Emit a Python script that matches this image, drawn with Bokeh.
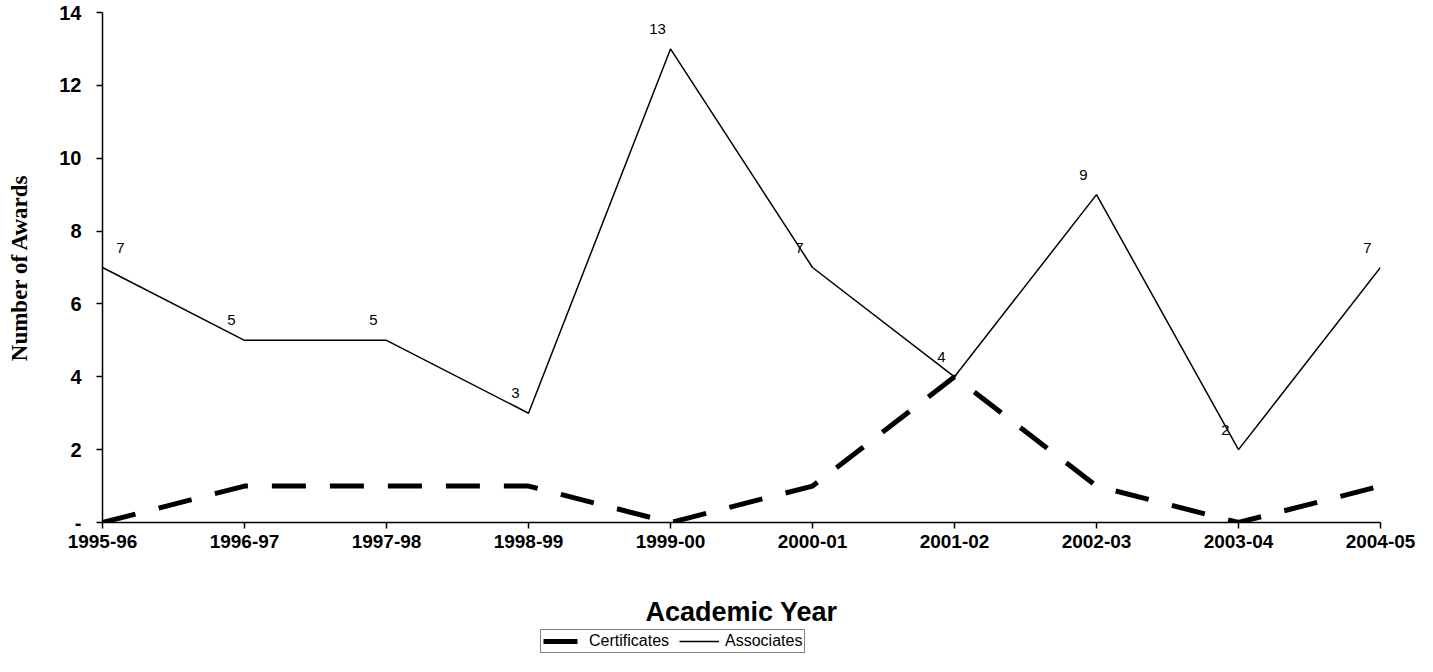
from bokeh.plotting import figure
from bokeh.layouts import column
from bokeh.models import ColumnDataSource, Legend, LegendItem, FixedTicker, Range1d
from bokeh.core.properties import value
from bokeh.embed import file_html
from bokeh.resources import INLINE

years = ["1995-96", "1996-97", "1997-98", "1998-99", "1999-00",
         "2000-01", "2001-02", "2002-03", "2003-04", "2004-05"]
certificates = [0, 1, 1, 1, 0, 1, 4, 1, 0, 1]
associates = [7, 5, 5, 3, 13, 7, 4, 9, 2, 7]
y_ticks = [0, 2, 4, 6, 8, 10, 12, 14]
series_names = ["Certificates", "Associates"]

xs = list(range(len(years)))

CERT_STYLE = dict(line_color="black", line_width=5, line_dash="34 24")
ASSOC_STYLE = dict(line_color="black", line_width=1.5)

p = figure(frame_width=1278, frame_height=510, output_backend="svg", toolbar_location=None,
           x_range=Range1d(0, len(years) - 1), y_range=Range1d(0, 14),
           min_border_left=102, min_border_right=37, min_border_top=12,
           min_border_bottom=0)
p.outline_line_color = None
p.xgrid.visible = False
p.ygrid.visible = False

p.line(xs, certificates, **CERT_STYLE)
p.line(xs, associates, **ASSOC_STYLE)

lab_src = ColumnDataSource(dict(
    x=xs, y=associates, t=[str(v) for v in associates],
    xo=[18] + [-13] * (len(xs) - 1)))
p.text(x="x", y="y", text="t", x_offset="xo", y_offset=-20, source=lab_src,
       text_align="center", text_baseline="middle", text_color="black",
       text_font=value("Liberation Sans"), text_font_size="15px")

# axes
p.xaxis.ticker = FixedTicker(ticks=xs)
p.xaxis.major_label_overrides = {i: y for i, y in enumerate(years)}
p.yaxis.ticker = FixedTicker(ticks=y_ticks)
p.yaxis.major_label_overrides = {0: "-"}
for ax in (p.xaxis[0], p.yaxis[0]):
    ax.axis_line_color = "black"
    ax.axis_line_width = 1.5
    ax.major_tick_line_color = "black"
    ax.major_tick_line_width = 1.5
    ax.major_tick_out = 6
    ax.major_tick_in = 0
    ax.minor_tick_line_color = None
    ax.major_label_text_font = "Liberation Sans"
    ax.major_label_text_font_style = "bold"
    ax.major_label_text_color = "black"

p.xaxis.major_label_text_font_size = "19px"
p.xaxis.major_label_standoff = 6
p.xaxis.axis_label = "Academic Year"
p.xaxis.axis_label_text_font = "Liberation Sans"
p.xaxis.axis_label_text_font_style = "bold"
p.xaxis.axis_label_text_font_size = "27px"
p.xaxis.axis_label_text_color = "black"
p.xaxis.axis_label_standoff = 46

p.yaxis.major_label_text_font_size = "20px"
p.yaxis.major_label_standoff = 15
p.yaxis.axis_label = "Number of Awards"
p.yaxis.axis_label_text_font = "Liberation Serif"
p.yaxis.axis_label_text_font_style = "bold"
p.yaxis.axis_label_text_font_size = "23px"
p.yaxis.axis_label_text_color = "black"
p.yaxis.axis_label_standoff = 24

# legend strip below the chart (series drawn off-range, only used as legend proxies)
q = figure(width=1417, height=28, output_backend="svg", toolbar_location=None,
           x_range=Range1d(100, 101), y_range=Range1d(100, 101),
           x_axis_location=None, y_axis_location=None, min_border=0)
q.outline_line_color = None
q.xgrid.visible = False
q.ygrid.visible = False
r_cert = q.line(xs, certificates, **CERT_STYLE)
r_assoc = q.line(xs, associates, **ASSOC_STYLE)

legend = Legend(items=[LegendItem(label=series_names[0], renderers=[r_cert]),
                       LegendItem(label=series_names[1], renderers=[r_assoc])],
                orientation="horizontal", location=(438, 4),
                border_line_color="black", border_line_width=1,
                label_text_font="Liberation Sans", label_text_font_size="16px",
                label_text_color="black", glyph_width=40, glyph_height=16,
                label_height=16, label_standoff=6, spacing=10, padding=2,
                margin=0, background_fill_alpha=0)
q.add_layout(legend, "center")

open("out.html", "w").write(file_html(column(p, q, spacing=0), INLINE))
